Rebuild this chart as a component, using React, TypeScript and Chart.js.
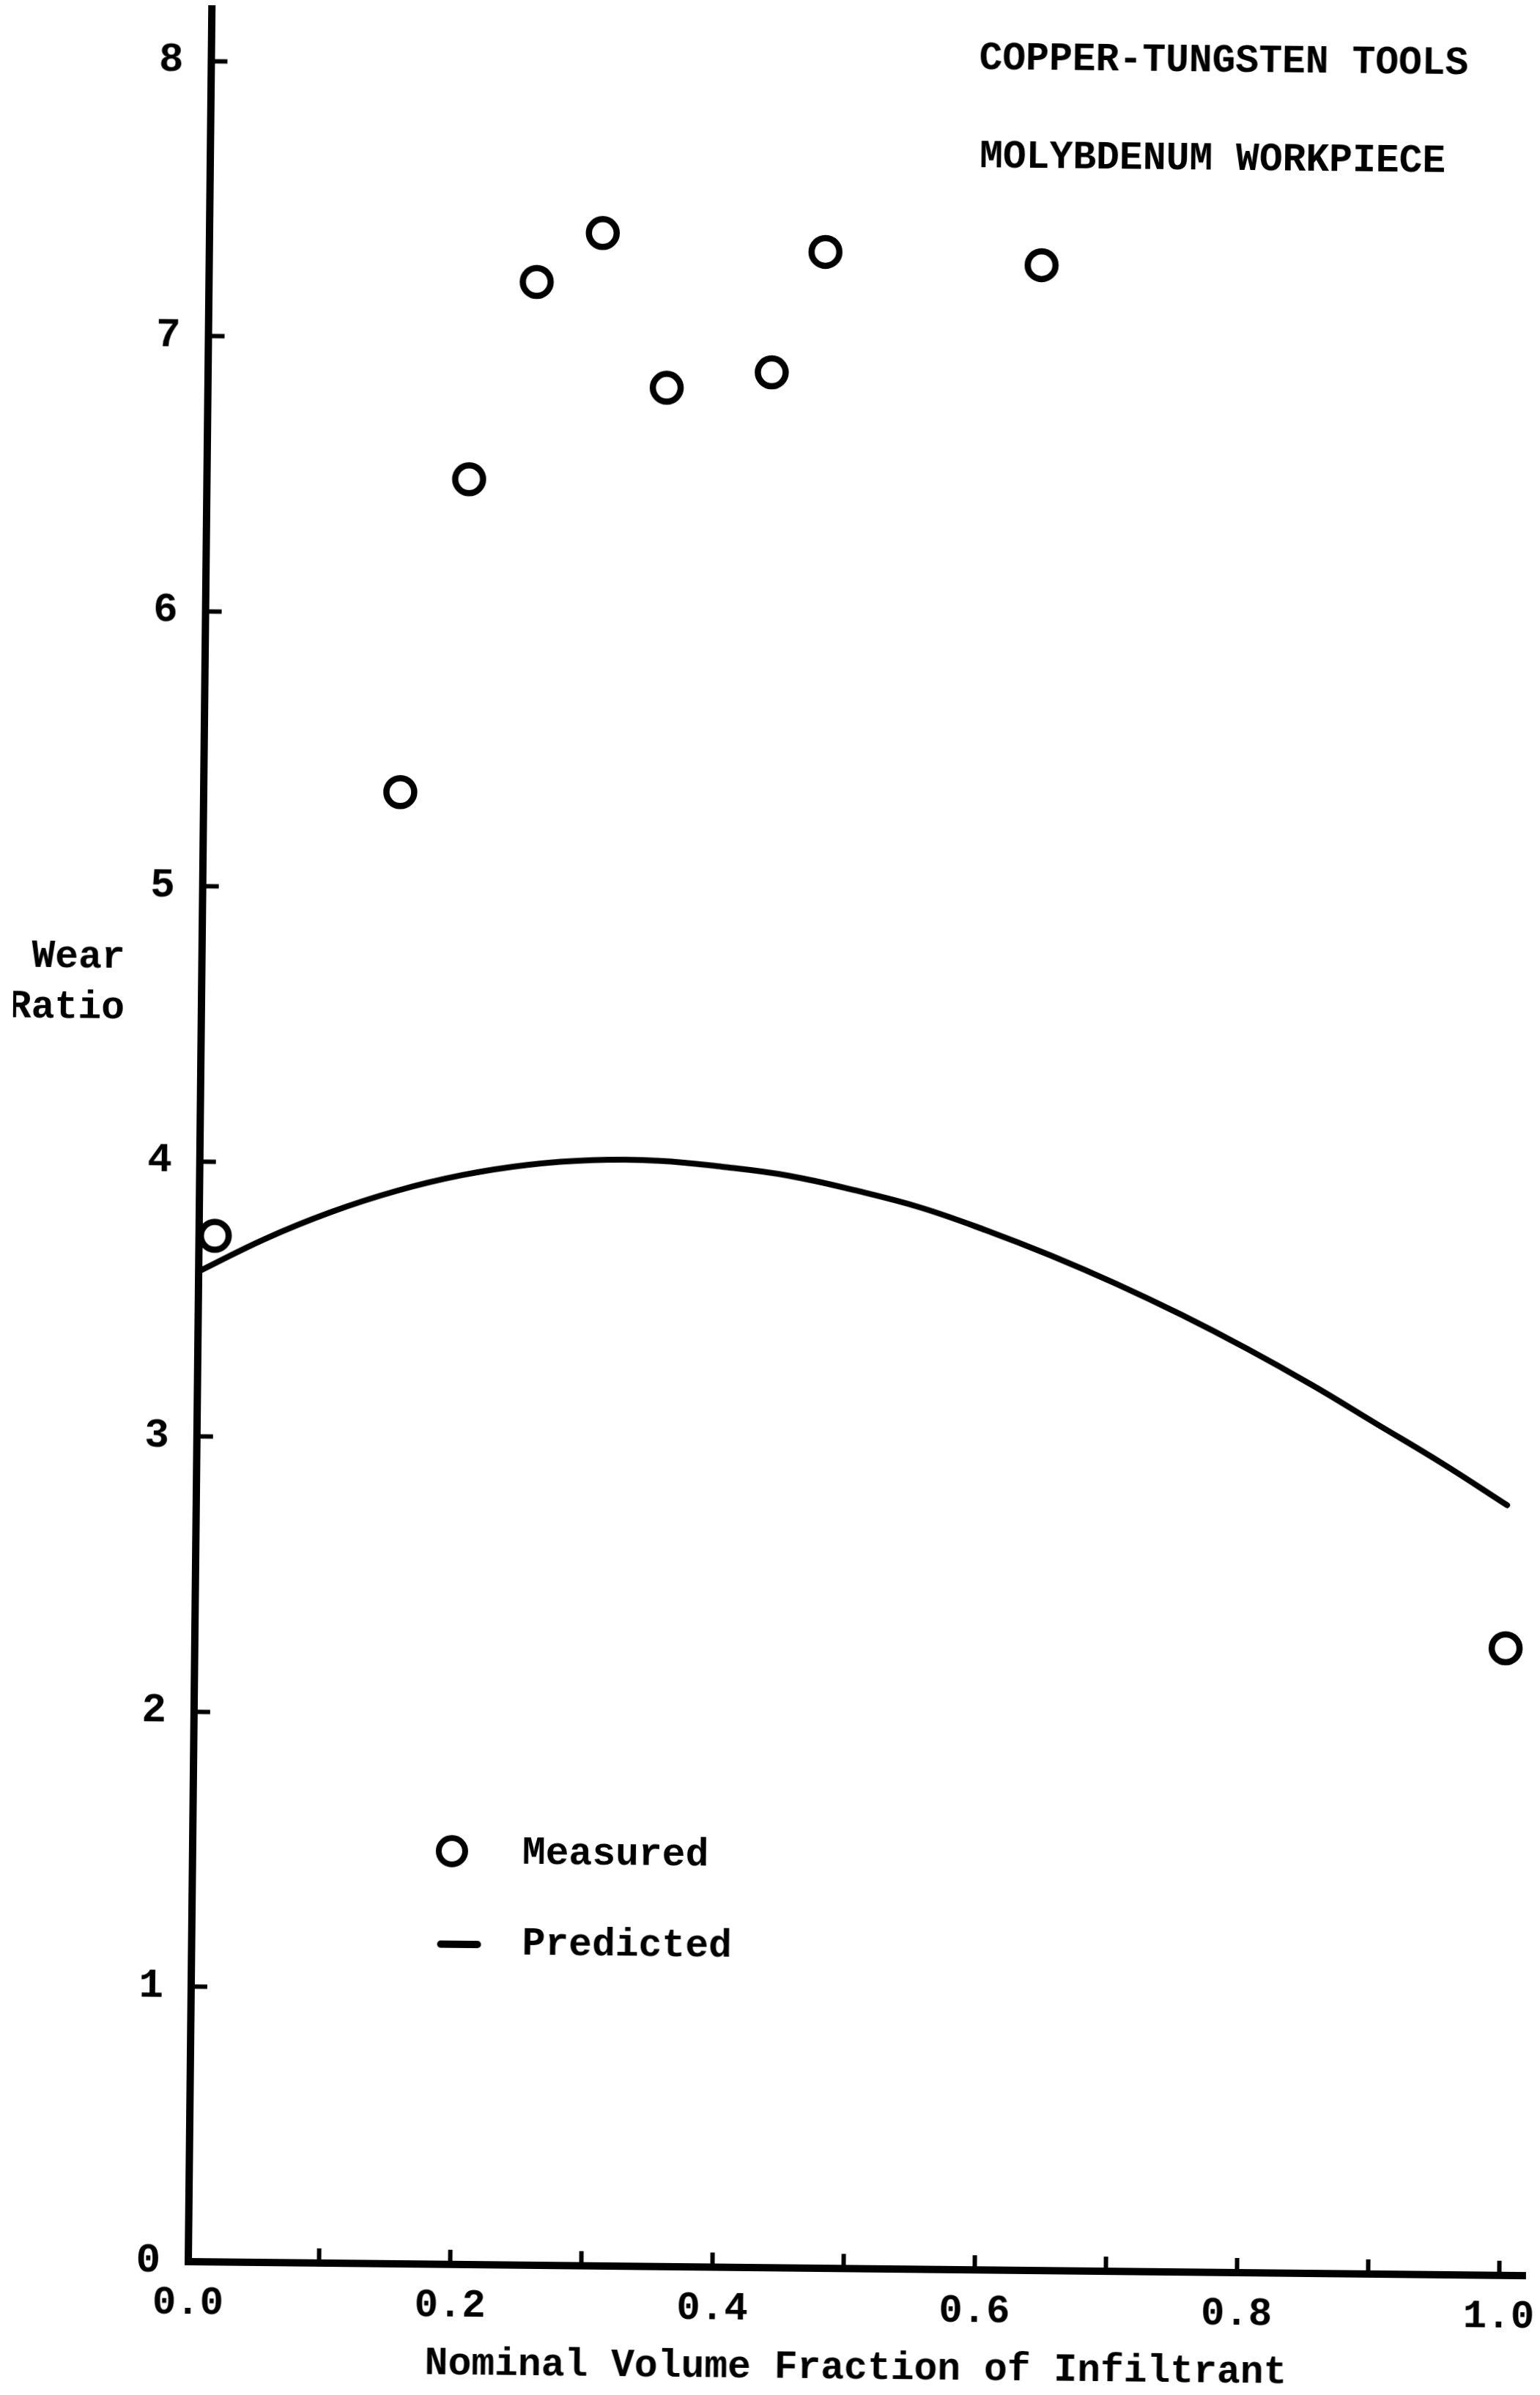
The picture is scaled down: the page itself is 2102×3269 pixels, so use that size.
import React, { useEffect, useRef } from "react";
import { Chart, registerables } from "chart.js";

Chart.register(...registerables);

// ---- data ----
const measuredX = [0.012, 0.15, 0.2, 0.25, 0.3, 0.35, 0.43, 0.47, 0.635, 1.0];
const measuredY = [3.73, 5.35, 6.49, 7.21, 7.39, 6.83, 6.89, 7.33, 7.29, 2.28];

const predictedX = [0, 0.05, 0.1, 0.15, 0.2, 0.25, 0.3, 0.35, 0.4, 0.45, 0.5, 0.55, 0.6, 0.65, 0.7, 0.75, 0.8, 0.85, 0.9, 0.95, 1.0];
const predictedY = [3.6, 3.72, 3.82, 3.9, 3.96, 4.0, 4.02, 4.02, 4.0, 3.97, 3.92, 3.86, 3.78, 3.69, 3.59, 3.48, 3.36, 3.23, 3.09, 2.95, 2.8];

const titleLines = ["COPPER-TUNGSTEN TOOLS", "MOLYBDENUM WORKPIECE"];
const yAxisLabel = ["Wear", "Ratio"];
const xAxisLabel = "Nominal Volume Fraction of Infiltrant";
const legendLabels = ["Measured", "Predicted"];

const FONT = '"Liberation Mono", "Courier New", monospace';

const paperText = {
  id: "paperText",
  afterDraw(chart: any) {
    const ctx = chart.ctx as CanvasRenderingContext2D;
    ctx.save();
    ctx.fillStyle = "#000";
    ctx.strokeStyle = "#000";
    ctx.textBaseline = "middle";
    ctx.font = `bold 53px ${FONT}`;
    // titles (top right)
    ctx.textAlign = "left";
    ctx.fillText(titleLines[0], 1305, 70);
    ctx.fillText(titleLines[1], 1307, 204);
    // y-axis label (horizontal, right-aligned)
    ctx.textAlign = "right";
    ctx.fillText(yAxisLabel[0], 152, 1309);
    ctx.fillText(yAxisLabel[1], 152, 1378);
    // legend
    ctx.textAlign = "left";
    ctx.lineWidth = 8;
    ctx.beginPath();
    ctx.arc(611, 2523, 18, 0, Math.PI * 2);
    ctx.stroke();
    ctx.fillText(legendLabels[0], 707, 2526);
    ctx.lineWidth = 10;
    ctx.lineCap = "round";
    ctx.beginPath();
    ctx.moveTo(597, 2650);
    ctx.lineTo(647, 2650);
    ctx.stroke();
    ctx.fillText(legendLabels[1], 708, 2650);
    ctx.restore();
  },
};

const zeroPadding = (s: any) => {
  s.paddingTop = 0;
  s.paddingBottom = 0;
  s.paddingLeft = 0;
  s.paddingRight = 0;
};

export default function App() {
  const ref = useRef<HTMLCanvasElement>(null);

  useEffect(() => {
    document.body.style.margin = "0";
    document.body.style.overflow = "hidden";
    let chart: Chart | null = null;
    let cancelled = false;

    const build = () => {
      if (cancelled || !ref.current) return;
      const tickFont = { family: FONT, size: 54, weight: "bold" as const };
      chart = new Chart(ref.current, {
        type: "scatter",
        data: {
          datasets: [
            {
              label: legendLabels[0],
              data: measuredX.map((x, i) => ({ x, y: measuredY[i] })),
              pointStyle: "circle",
              pointRadius: 19,
              pointHoverRadius: 19,
              pointBorderWidth: 8.5,
              borderColor: "#000",
              backgroundColor: "rgba(0,0,0,0)",
              showLine: false,
              clip: false as any,
            },
            {
              label: legendLabels[1],
              data: predictedX.map((x, i) => ({ x, y: predictedY[i] })),
              showLine: true,
              borderColor: "#000",
              borderWidth: 8,
              pointRadius: 0,
              pointHoverRadius: 0,
              tension: 0.4,
              fill: false,
              borderCapStyle: "round",
            } as any,
          ],
        },
        options: {
          responsive: false,
          animation: false,
          devicePixelRatio: 1,
          events: [],
          layout: { autoPadding: false, padding: { top: 12, right: 20, bottom: 0, left: 0 } },
          plugins: {
            legend: { display: false },
            tooltip: { enabled: false },
          },
          scales: {
            x: {
              type: "linear",
              position: "bottom",
              min: 0,
              max: 1.02,
              afterFit: (s: any) => {
                s.height = 182;
                zeroPadding(s);
              },
              ticks: {
                stepSize: 0.1,
                includeBounds: false,
                autoSkip: false,
                maxRotation: 0,
                minRotation: 0,
                padding: 45,
                color: "#000",
                font: tickFont,
                callback: (v: any) => (Math.round(Number(v) * 10) % 2 === 0 ? Number(v).toFixed(1) : ""),
              },
              grid: {
                drawOnChartArea: false,
                drawTicks: true,
                tickLength: -20,
                tickWidth: 6,
                tickColor: "#000",
              },
              border: { display: true, color: "#000", width: 10 },
              title: {
                display: true,
                text: xAxisLabel,
                color: "#000",
                font: { family: FONT, size: 53, weight: "bold" },
                padding: { top: 0, bottom: 14 },
              },
            },
            y: {
              type: "linear",
              min: 0,
              max: 8.19,
              afterFit: (s: any) => {
                s.width = 257;
                zeroPadding(s);
              },
              ticks: {
                stepSize: 1,
                includeBounds: false,
                padding: 60,
                color: "#000",
                font: { family: FONT, size: 56, weight: "bold" },
                callback: (v: any) => String(v),
              },
              grid: {
                drawOnChartArea: false,
                drawTicks: true,
                tickLength: -22,
                tickWidth: 6,
                tickColor: "#000",
              },
              border: { display: true, color: "#000", width: 10 },
            },
          },
        },
        plugins: [paperText],
      });
    };

    if ((document as any).fonts && (document as any).fonts.load) {
      (document as any).fonts
        .load(`bold 54px "Liberation Mono"`)
        .then(build, build);
    } else {
      build();
    }

    return () => {
      cancelled = true;
      if (chart) chart.destroy();
    };
  }, []);

  return (
    <div style={{ position: "relative", width: 2102, height: 3269, overflow: "hidden", background: "#fff" }}>
      <canvas
        ref={ref}
        width={2102}
        height={3269}
        style={{
          display: "block",
          width: 2102,
          height: 3269,
          transform: "rotate(0.6deg)",
          transformOrigin: "257px 3087px",
        }}
      />
    </div>
  );
}
